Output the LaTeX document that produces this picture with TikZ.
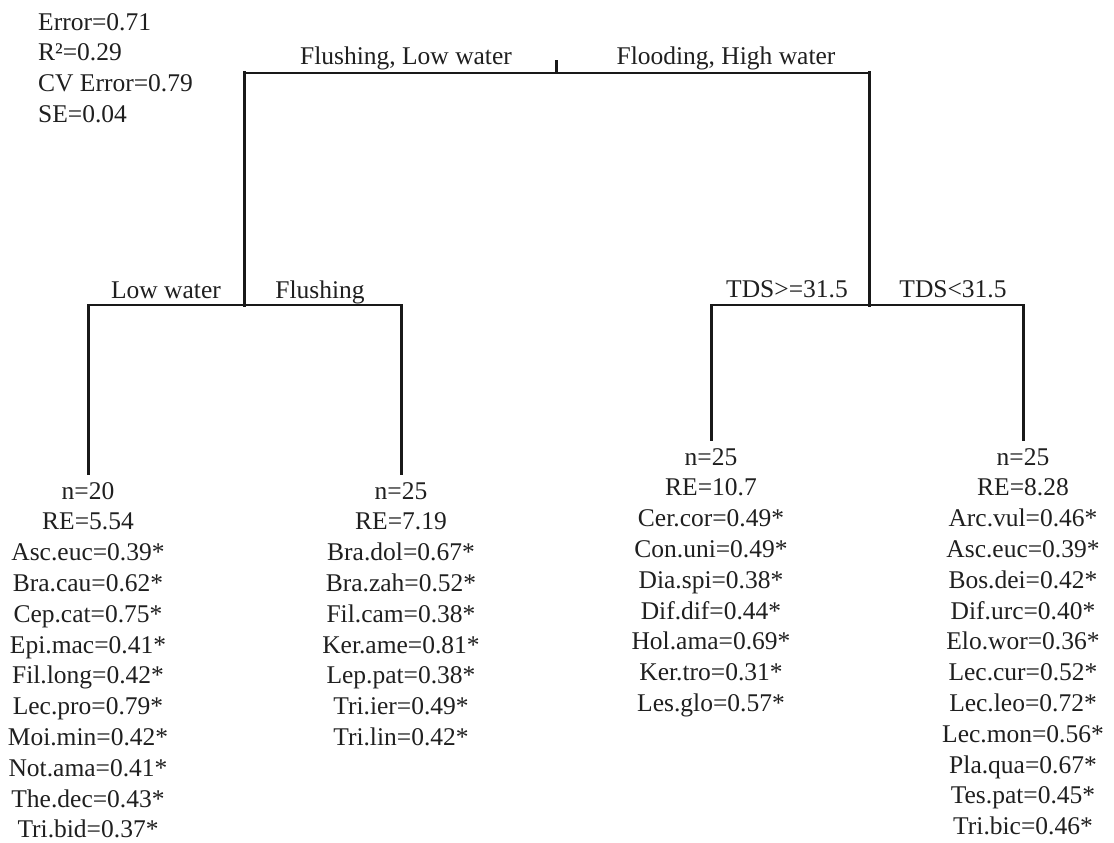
\documentclass[tikz,border=0pt]{standalone}
\usepackage{fontspec}
\setmainfont{Liberation Serif}
\begin{document}
\begin{tikzpicture}[x=1pt,y=-1pt,
  hbar/.style={line width=2pt, draw=black!90, line cap=rect},
  vbar/.style={line width=3pt, draw=black!90, line cap=rect},
  txt/.style={inner sep=0pt, font=\fontsize{25.5}{30.8}\selectfont, text=black!88},
  lbl/.style={txt, anchor=base},
  leaf/.style={txt, anchor=north, align=center, inner xsep=0pt, inner ysep=9pt},
  stats/.style={txt, anchor=north west, align=left}]
\useasboundingbox (0,0) rectangle (1114,843);

% statistics
\node[stats] (st) at (38,13) {Error=0.71\\R²=0.29\\CV Error=0.79\\SE=0.04};

% split points
\coordinate (root) at (556,62);
\coordinate (n1) at (556,73);
\coordinate (n1L) at (244,73);
\coordinate (n1R) at (869,73);
\coordinate (n2L) at (244,305);
\coordinate (n2La) at (88,305);
\coordinate (n2Lb) at (401,305);
\coordinate (n2R) at (869,305);
\coordinate (n2Ra) at (711,305);
\coordinate (n2Rb) at (1023,305);

% split labels
\node[lbl] (s1a) at (406,65) {Flushing, Low water};
\node[lbl] (s1b) at (726,65) {Flooding, High water};
\node[lbl] (s2a) at (166,298) {Low water};
\node[lbl] (s2b) at (320,298) {Flushing};
\node[lbl] (s3a) at (787,297) {TDS>=31.5};
\node[lbl] (s3b) at (953,297) {TDS<31.5};

% leaves
\node[leaf] (l1) at (88,473) {n=20\\RE=5.54\\Asc.euc=0.39*\\Bra.cau=0.62*\\Cep.cat=0.75*\\Epi.mac=0.41*\\Fil.long=0.42*\\Lec.pro=0.79*\\Moi.min=0.42*\\Not.ama=0.41*\\The.dec=0.43*\\Tri.bid=0.37*};
\node[leaf] (l2) at (401,473) {n=25\\RE=7.19\\Bra.dol=0.67*\\Bra.zah=0.52*\\Fil.cam=0.38*\\Ker.ame=0.81*\\Lep.pat=0.38*\\Tri.ier=0.49*\\Tri.lin=0.42*};
\node[leaf] (l3) at (711,439) {n=25\\RE=10.7\\Cer.cor=0.49*\\Con.uni=0.49*\\Dia.spi=0.38*\\Dif.dif=0.44*\\Hol.ama=0.69*\\Ker.tro=0.31*\\Les.glo=0.57*};
\node[leaf] (l4) at (1023,439) {n=25\\RE=8.28\\Arc.vul=0.46*\\Asc.euc=0.39*\\Bos.dei=0.42*\\Dif.urc=0.40*\\Elo.wor=0.36*\\Lec.cur=0.52*\\Lec.leo=0.72*\\Lec.mon=0.56*\\Pla.qua=0.67*\\Tes.pat=0.45*\\Tri.bic=0.46*};

% tree connectors
\draw[vbar] (root) -- (n1);
\draw[hbar] (n1L) -- (n1R);
\draw[vbar] (n1L) -- (n2L);
\draw[vbar] (n1R) -- (n2R);
\draw[hbar] (n2La) -- (n2Lb);
\draw[hbar] (n2Ra) -- (n2Rb);
\draw[vbar] (n2La) -- (l1.north);
\draw[vbar] (n2Lb) -- (l2.north);
\draw[vbar] (n2Ra) -- (l3.north);
\draw[vbar] (n2Rb) -- (l4.north);
\end{tikzpicture}
\end{document}
